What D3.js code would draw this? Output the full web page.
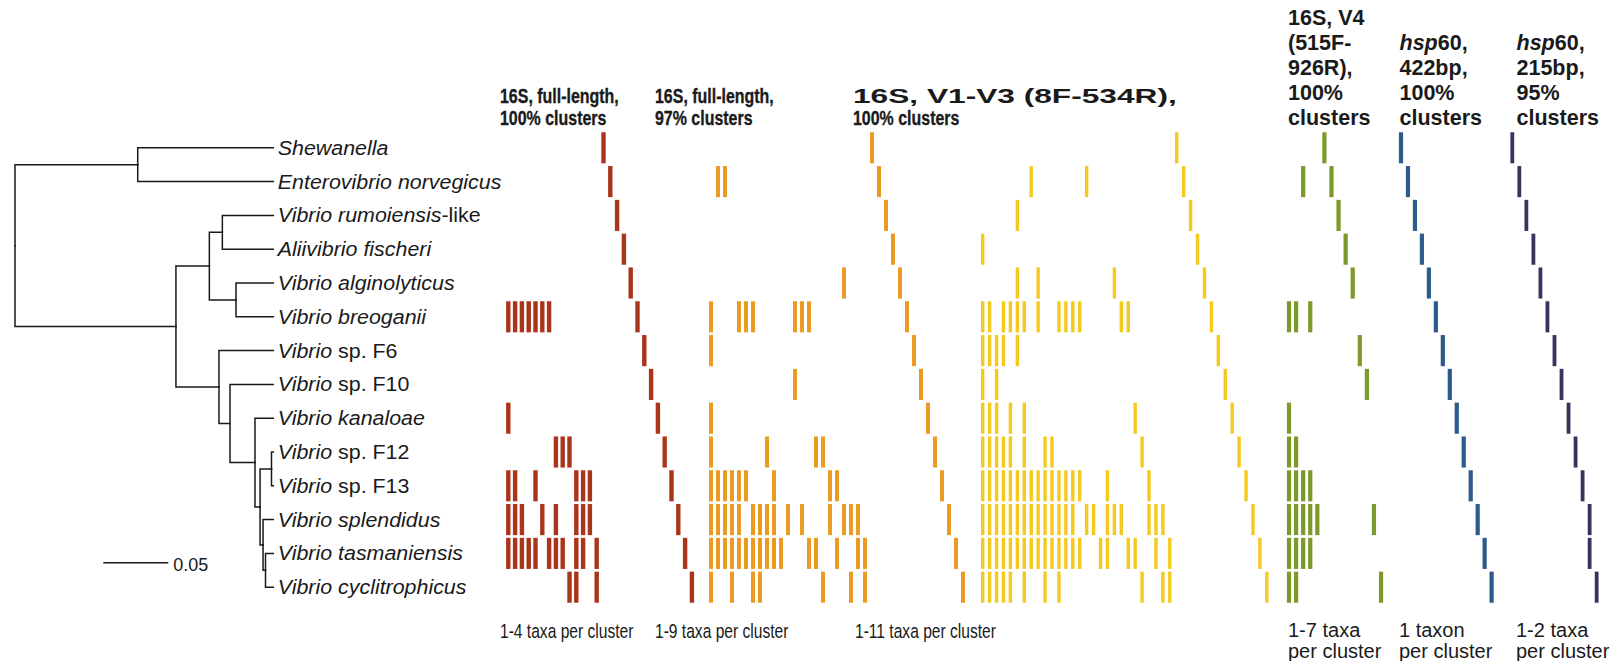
<!DOCTYPE html>
<html>
<head>
<meta charset="utf-8">
<script src="https://cdn.jsdelivr.net/npm/d3@7"></script>
<style>
  html, body { margin: 0; padding: 0; background: #fff; }
  svg { display: block; }
  text { font-family: "Liberation Sans", Arial, Helvetica, sans-serif; fill: #1a1a1a; }
</style>
</head>
<body>
<svg id="chart" width="1620" height="661"></svg>
<script>
// ---- Taxa, top to bottom ----
const taxa = [
  "Shewanella", "Enterovibrio norvegicus", "Vibrio rumoiensis-like", "Aliivibrio fischeri",
  "Vibrio alginolyticus", "Vibrio breoganii", "Vibrio sp. F6", "Vibrio sp. F10",
  "Vibrio kanaloae", "Vibrio sp. F12", "Vibrio sp. F13", "Vibrio splendidus",
  "Vibrio tasmaniensis", "Vibrio cyclitrophicus"
];

// ---- Phylogeny (node table for d3.stratify) ----
const nodeIds = ["root", "A", "Shewanella", "Enterovibrio norvegicus", "B", "C", "D",
  "Vibrio rumoiensis-like", "Aliivibrio fischeri", "E", "Vibrio alginolyticus", "Vibrio breoganii",
  "F", "Vibrio sp. F6", "G", "Vibrio sp. F10", "H", "Vibrio kanaloae", "I", "J",
  "Vibrio sp. F12", "Vibrio sp. F13", "K", "Vibrio splendidus", "L",
  "Vibrio tasmaniensis", "Vibrio cyclitrophicus"];
const nodeParents = [null, "root", "A", "A", "root", "B", "C", "D", "D", "C", "E", "E",
  "B", "F", "F", "G", "G", "H", "H", "I", "J", "J", "I", "K", "K", "L", "L"];
const branchLengths = [0, 0.0944, 0.1043, 0.1043, 0.1238, 0.0257, 0.0100, 0.0392, 0.0392,
  0.0205, 0.0287, 0.0287, 0.0331, 0.0418, 0.0085, 0.0333, 0.0192, 0.0141, 0.0039, 0.0088,
  0.0014, 0.0014, 0.0023, 0.0079, 0.0019, 0.0060, 0.0060];
const scaleBarValue = 0.05;

// ---- Cluster membership: for each taxon, indices of the clusters containing it ----
const full100 = [
  [14], [15], [16], [17], [18],
  [0, 1, 2, 3, 4, 5, 6, 19],
  [20], [21], [0, 22],
  [7, 8, 9, 23],
  [0, 1, 4, 10, 11, 12, 24],
  [0, 1, 2, 5, 7, 10, 11, 12, 25],
  [0, 1, 2, 3, 4, 6, 7, 8, 10, 11, 13, 26],
  [9, 10, 13, 27]
];
const full97 = [
  [23], [1, 2, 24], [25], [26], [19, 27],
  [0, 4, 5, 6, 12, 13, 14, 28],
  [0, 29], [12, 30], [0, 31],
  [0, 8, 15, 16, 32],
  [0, 1, 2, 3, 4, 5, 9, 17, 18, 33],
  [0, 1, 2, 3, 4, 6, 7, 8, 9, 11, 13, 17, 19, 20, 21, 34],
  [0, 1, 2, 3, 4, 5, 6, 7, 8, 9, 10, 14, 15, 18, 21, 22, 35],
  [0, 3, 6, 7, 16, 20, 22, 36]
];
const v1v3 = [
  [28], [7, 15, 29], [5, 30], [0, 31], [5, 8, 19, 32],
  [0, 1, 3, 4, 5, 6, 8, 11, 12, 13, 14, 20, 21, 33],
  [0, 1, 2, 3, 5, 34],
  [0, 2, 35],
  [0, 1, 2, 4, 6, 22, 36],
  [0, 1, 2, 3, 4, 6, 9, 10, 23, 37],
  [0, 1, 2, 3, 4, 5, 6, 7, 8, 9, 10, 11, 12, 13, 14, 18, 24, 38],
  [0, 1, 2, 3, 4, 5, 6, 7, 8, 9, 10, 11, 12, 13, 15, 16, 18, 19, 20, 24, 25, 26, 39],
  [0, 1, 2, 3, 4, 5, 6, 7, 8, 9, 10, 11, 12, 13, 14, 17, 18, 21, 22, 25, 27, 40],
  [0, 1, 2, 3, 4, 6, 9, 11, 23, 26, 27, 41]
];
const v4 = [
  [5], [2, 6], [7], [8], [9], [0, 1, 3], [10], [11], [0], [0, 1],
  [0, 1, 2, 3], [0, 1, 2, 3, 4, 12], [0, 1, 2, 3], [0, 1, 13]
];
const hsp422 = [[0], [1], [2], [3], [4], [5], [6], [7], [8], [9], [10], [11], [12], [13]];
const hsp215 = [[0], [1], [2], [3], [4], [5], [6], [7], [8], [9], [10], [11], [11], [12]];

const clusterCounts = [28, 37, 42, 14, 14, 13];

// ---- Panel texts ----
const panelTitles = [
  [[["16S, full-length,", 0]], [["100% clusters", 0]]],
  [[["16S, full-length,", 0]], [["97% clusters", 0]]],
  [[["16S, V1-V3 (8F-534R),", 0]], [["100% clusters", 0]]],
  [[["16S, V4", 0]], [["(515F-", 0]], [["926R),", 0]], [["100%", 0]], [["clusters", 0]]],
  [[["hsp", 1], ["60,", 0]], [["422bp,", 0]], [["100%", 0]], [["clusters", 0]]],
  [[["hsp", 1], ["60,", 0]], [["215bp,", 0]], [["95%", 0]], [["clusters", 0]]]
];
const panelNotes = [
  ["1-4 taxa per cluster"], ["1-9 taxa per cluster"], ["1-11 taxa per cluster"],
  ["1-7 taxa", "per cluster"], ["1 taxon", "per cluster"], ["1-2 taxa", "per cluster"]
];

// ---- Styling / layout ----
const panelColors = ["#ab351b", "#ec9b22", "#f5c91e", "#7c992c", "#2d5c8b", "#3f2f5d"];
const panelX0 = [508.3, 711, 982.7, 1289, 1401, 1512.3];   // centre of first column
const panelStep = [6.8, 7.0, 6.93, 7.08, 6.97, 7.03];
const barWidth = [4.4, 4.0, 3.4, 4.2, 4.2, 3.8];
const titleX = [500, 655, 853, 1288, 1399.5, 1516.5];
const noteX = [500, 655, 855, 1288, 1399, 1516];

const svg = d3.select("#chart");

// Row scale shared by the tree tips and the cluster matrices
const y = d3.scaleBand().domain(taxa).range([130.9, 604.1]).paddingInner(0.08).paddingOuter(0.04);
const yc = name => y(name) + y.bandwidth() / 2;

function addText(x, yy, parts, size, weight, sx) {
  const t = svg.append("text")
    .attr("transform", `translate(${x},${yy}) scale(${sx},1)`)
    .attr("font-size", size)
    .attr("font-weight", weight);
  parts.forEach(([s, it]) => t.append("tspan").attr("font-style", it ? "italic" : "normal").text(s));
  return t;
}

// ---- Tree ----
const table = nodeIds.map((id, i) => ({ id, parent: nodeParents[i], len: branchLengths[i] }));
const root = d3.stratify().id(d => d.id).parentId(d => d.parent)(table);
root.each(n => { n.dist = (n.parent ? n.parent.dist : 0) + n.data.len; });
const xTree = d3.scaleLinear().domain([0, scaleBarValue]).range([15, 80]);
root.eachAfter(n => {
  n.py = n.children ? d3.mean(n.children, c => c.py) : yc(n.id);
  n.px = xTree(n.dist);
});

const gTree = svg.append("g").attr("fill", "none").attr("stroke", "#1a1a1a")
  .attr("stroke-width", 1.5).attr("stroke-linecap", "square");
gTree.selectAll("path").data(root.links()).join("path")
  .attr("d", l => `M${l.source.px},${l.source.py}V${l.target.py}H${l.target.px}`);

// Tip labels
root.leaves().forEach(n => {
  const m = n.id.match(/^(.*?)( sp\. .*|-like)?$/);
  const parts = [[m[1], 1]];
  if (m[2]) parts.push([m[2], 0]);
  addText(n.px + 4.5, yc(n.id) + 7, parts, 20, "normal", 1.07);
});

// Scale bar
const sbX = 103.3, sbY = 562.7;
svg.append("line")
  .attr("x1", sbX).attr("x2", sbX + xTree(scaleBarValue) - xTree(0))
  .attr("y1", sbY).attr("y2", sbY)
  .attr("stroke", "#1a1a1a").attr("stroke-width", 1.5);
addText(sbX + xTree(scaleBarValue) - xTree(0) + 5, sbY + 8, [[String(scaleBarValue), 0]], 18, "normal", 1);

// ---- Cluster matrices ----
const matrices = [full100, full97, v1v3, v4, hsp422, hsp215];
matrices.forEach((rows, p) => {
  const n = clusterCounts[p];
  const step = panelStep[p];
  const x = d3.scaleBand().domain(d3.range(n))
    .range([panelX0[p] - step / 2, panelX0[p] - step / 2 + n * step])
    .paddingInner(1 - barWidth[p] / step).paddingOuter((1 - barWidth[p] / step) / 2);
  const cells = rows.flatMap((cols, r) => cols.map(c => ({ taxon: taxa[r], c })));
  svg.append("g").selectAll("rect").data(cells).join("rect")
    .attr("x", d => x(d.c))
    .attr("y", d => y(d.taxon))
    .attr("width", x.bandwidth())
    .attr("height", y.bandwidth())
    .attr("fill", panelColors[p]);
});

// ---- Panel titles ----
panelTitles.forEach((lines, p) => {
  if (p < 3) {
    lines.forEach((parts, i) => {
      const t = addText(titleX[p], 102.5 + i * 22, parts, 21, "bold", 0.76);
      if (p === 2 && i === 0) {
        // the primer-range line of the V1-V3 header runs out over its matrix
        t.attr("textLength", 426).attr("lengthAdjust", "spacingAndGlyphs");
      } else {
        t.attr("stroke", "#1a1a1a").attr("stroke-width", 0.35);
      }
    });
  } else {
    const nL = lines.length;
    lines.forEach((parts, i) => addText(titleX[p], 125 - (nL - 1 - i) * 25, parts, 21.5, "bold", 1));
  }
});

// ---- Panel notes ----
panelNotes.forEach((lines, p) => {
  if (p < 3) {
    lines.forEach((s, i) => addText(noteX[p], 638, [[s, 0]], 19.5, "normal", 0.8));
  } else {
    lines.forEach((s, i) => addText(noteX[p], 637 + i * 21, [[s, 0]], 20, "normal", 1));
  }
});
</script>
</body>
</html>
